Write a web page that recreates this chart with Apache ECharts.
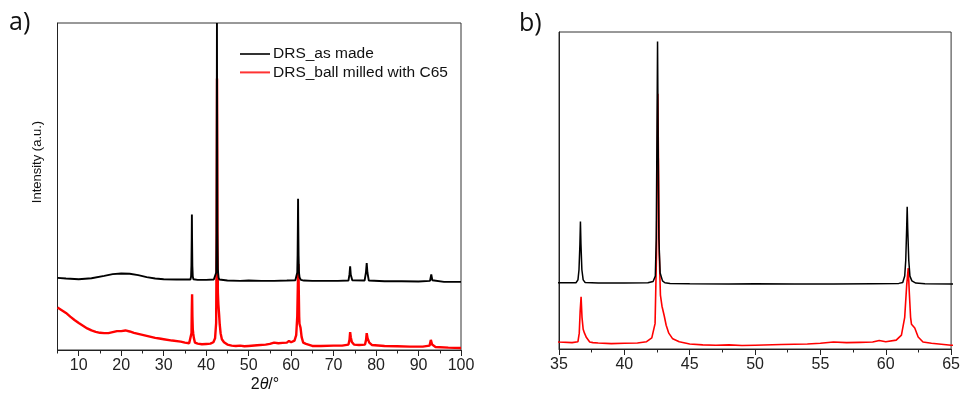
<!DOCTYPE html>
<html>
<head>
<meta charset="utf-8">
<script src="https://cdn.jsdelivr.net/npm/echarts@6/dist/echarts.min.js"></script>
<style>
html,body{margin:0;padding:0;background:#fff;}
#chart{width:963px;height:394px;}
</style>
</head>
<body>
<div id="chart"></div>
<script>
// ---- Data (2theta in degrees, intensity in arbitrary units) ----
const seriesNames = ['DRS_as made', 'DRS_ball milled with C65'];

const asMade = [
  [5, 21.4], [7, 21.2], [10, 21.0], [13, 21.3], [16, 22.0], [18, 22.5], [20, 22.7], [22, 22.6],
  [24, 22.2], [26, 21.6], [28, 21.2], [30, 21.0], [33, 20.9], [35, 20.9], [36.3, 20.9],
  [36.45, 21.8], [36.53, 25], [36.6, 33], [36.64, 40.2], [36.68, 33], [36.75, 25], [36.85, 21.8],
  [37.0, 21.0], [38, 20.8], [40, 20.8], [41.8, 20.9], [42.2, 21.3], [42.37, 23], [42.44, 35],
  [42.5, 70], [42.54, 97], [42.58, 70], [42.64, 35], [42.74, 24], [42.92, 21.5], [43.1, 20.9],
  [43.5, 20.7], [45, 20.6], [48, 20.5], [50, 20.6], [53, 20.5], [56, 20.5], [59, 20.6],
  [61.0, 20.7], [61.3, 21.0], [61.45, 23], [61.53, 28], [61.6, 38], [61.64, 44.9], [61.68, 38],
  [61.76, 28], [61.85, 23], [62.0, 21.5], [62.3, 20.8], [63, 20.6], [65, 20.5], [68, 20.5],
  [71, 20.5], [73.5, 20.6], [73.75, 22.5], [73.9, 24.8], [74.05, 22.3], [74.4, 20.7],
  [77.3, 20.6], [77.62, 23], [77.8, 25.8], [77.97, 23], [78.3, 20.6], [82, 20.4], [86, 20.4],
  [90, 20.3], [92.7, 20.5], [93.0, 22.4], [93.25, 20.7], [96, 20.2], [100, 20.2]
];

const ballMilled = [
  [5, 12.6], [6, 11.8], [7, 11.0], [8, 9.9], [9, 8.9], [10, 8.0], [11, 7.2], [12, 6.4],
  [13, 5.8], [14, 5.4], [15, 5.1], [16, 5.0], [17, 5.0], [18, 5.3], [19, 5.6], [20, 5.6],
  [21, 5.8], [22, 5.5], [23, 5.1], [24, 4.8], [25, 4.5], [26, 4.2], [27, 3.9], [28, 3.6],
  [29, 3.4], [30, 3.2], [32, 2.8], [34, 2.5], [35, 2.2], [36, 2.0], [36.45, 2.3], [36.55, 5],
  [36.62, 12], [36.69, 16.5], [36.76, 10], [36.85, 6.2], [36.95, 5], [37.1, 3.6], [37.35, 2.2],
  [37.6, 2.0], [38, 1.9], [39, 1.7], [40, 1.8], [41, 1.9], [41.7, 2.3], [42.1, 3.5],
  [42.35, 8], [42.46, 30], [42.52, 60], [42.56, 80.5], [42.61, 60], [42.67, 30], [42.76, 17],
  [42.88, 13.5], [43.05, 10.5], [43.2, 7.5], [43.4, 5], [43.7, 3.2], [44.2, 2.3], [45, 1.6],
  [46, 1.3], [47, 1.2], [48, 1.3], [49, 1.1], [50, 1.2], [52, 1.4], [54, 1.6], [55, 1.8],
  [56, 2.2], [57, 2.0], [58, 2.1], [59, 2.2], [59.5, 2.7], [60, 2.3], [60.8, 2.8], [61.2, 4.4],
  [61.45, 10], [61.6, 20], [61.72, 25.5], [61.8, 18], [61.9, 10], [61.97, 7.8], [62.1, 7.2],
  [62.22, 6.6], [62.48, 3.8], [62.85, 2.2], [63.5, 1.8], [65, 1.2], [67, 1.2], [70, 1.3],
  [72, 1.3], [73.5, 1.6], [73.75, 3], [73.9, 5.3], [74.05, 3.8], [74.3, 2.4], [74.8, 1.6],
  [76, 1.5], [77.4, 1.6], [77.65, 3], [77.8, 5.0], [78.0, 3.5], [78.4, 2.2], [79, 1.5],
  [82, 1.2], [85, 1.1], [88, 1.0], [91, 1.0], [92.6, 1.3], [92.9, 3.0], [93.2, 1.6],
  [94, 0.9], [97, 0.7], [100, 0.6]
];

// tick labels
const leftMajorTicks = [10, 20, 30, 40, 50, 60, 70, 80, 90, 100];
const leftMinorTicks = [5, 15, 25, 35, 45, 55, 65, 75, 85, 95];
const rightMajorTicks = [35, 40, 45, 50, 55, 60, 65];
const rightMinorTicks = [37.5, 42.5, 47.5, 52.5, 57.5, 62.5];

// ---- chart ----
const chart = echarts.init(document.getElementById('chart'), null, {renderer: 'canvas'});
const FONT = 'Liberation Sans';
const axisLineStyle = {color: '#222', width: 1};

function mainX(grid, min, max, ticks) {
  return {
    type: 'value', gridIndex: grid, min: min, max: max,
    axisLine: {show: true, onZero: false, lineStyle: axisLineStyle},
    axisTick: {show: true, inside: false, length: 6, customValues: ticks, lineStyle: axisLineStyle},
    axisLabel: {show: true, customValues: ticks, margin: 8, color: '#222', fontFamily: FONT, fontSize: 16},
    splitLine: {show: false}
  };
}
function minorX(grid, min, max, ticks) {
  return {
    type: 'value', gridIndex: grid, min: min, max: max, position: 'bottom',
    axisLine: {show: false},
    axisTick: {show: true, inside: false, length: 3.5, customValues: ticks, lineStyle: axisLineStyle},
    axisLabel: {show: false},
    splitLine: {show: false}
  };
}
function yAx(grid, max) {
  return {
    type: 'value', gridIndex: grid, min: 0, max: max,
    axisLine: {show: true, onZero: false, lineStyle: axisLineStyle},
    axisTick: {show: false}, axisLabel: {show: false}, splitLine: {show: false}
  };
}

const option = {
  animation: false,
  backgroundColor: '#fff',
  grid: [
    {left: 57.5, top: 23, width: 403.5, height: 327, show: true, borderColor: '#333', borderWidth: 1},
    {left: 559, top: 32, width: 396, height: 317, show: true, borderColor: '#333', borderWidth: 1}
  ],
  xAxis: [
    mainX(0, 5, 100, leftMajorTicks),
    minorX(0, 5, 100, leftMinorTicks),
    mainX(1, 35, 65, rightMajorTicks),
    minorX(1, 35, 65, rightMinorTicks)
  ],
  yAxis: [yAx(0, 97), yAx(1, 100)],
  legend: {
    orient: 'vertical', left: 235, top: 41,
    icon: 'rect', itemWidth: 30, itemHeight: 2, itemGap: 2.4,
    data: [
      {name: seriesNames[0], itemStyle: {color: '#333'}},
      {name: seriesNames[1], itemStyle: {color: '#ff3333'}}
    ],
    textStyle: {fontFamily: FONT, fontSize: 15.5, lineHeight: 16, color: '#111', padding: [0, 0, 0, -2]},
    selectedMode: false
  },
  series: [
    {name: seriesNames[1], type: 'line', xAxisIndex: 0, yAxisIndex: 0, data: ballMilled,
     symbol: 'none', lineStyle: {color: '#ff0000', width: 2.4}, itemStyle: {color: '#ff0000'}},
    {name: seriesNames[0], type: 'line', xAxisIndex: 0, yAxisIndex: 0, data: asMade,
     symbol: 'none', lineStyle: {color: '#000000', width: 1.9}, itemStyle: {color: '#000000'}},
    {name: seriesNames[1] + ' (zoom)', type: 'line', xAxisIndex: 2, yAxisIndex: 1, data: ballMilled,
     symbol: 'none', lineStyle: {color: '#ff0000', width: 1.6}},
    {name: seriesNames[0] + ' (zoom)', type: 'line', xAxisIndex: 2, yAxisIndex: 1, data: asMade,
     symbol: 'none', lineStyle: {color: '#000000', width: 1.5}}
  ],
  graphic: [
    {type: 'text', left: 9, top: 10, style: {text: 'a)', fontFamily: 'Open Sans', fontSize: 25, fill: '#111'}},
    {type: 'text', left: 519, top: 11, style: {text: 'b)', fontFamily: 'Open Sans', fontSize: 25, fill: '#111'}},
    {type: 'text', x: 37, y: 162, rotation: Math.PI / 2,
     style: {text: 'Intensity (a.u.)', fontFamily: FONT, fontSize: 13, fill: '#111',
             textAlign: 'center', textVerticalAlign: 'middle'}},
    {type: 'text', x: 265, y: 385,
     style: {text: '2{i|θ}/°', fontFamily: FONT, fontSize: 16, fill: '#111',
             textAlign: 'center', textVerticalAlign: 'middle',
             rich: {i: {fontStyle: 'italic', fontFamily: FONT, fontSize: 16, fill: '#111'}}}}
  ]
};
chart.setOption(option);
</script>
</body>
</html>
